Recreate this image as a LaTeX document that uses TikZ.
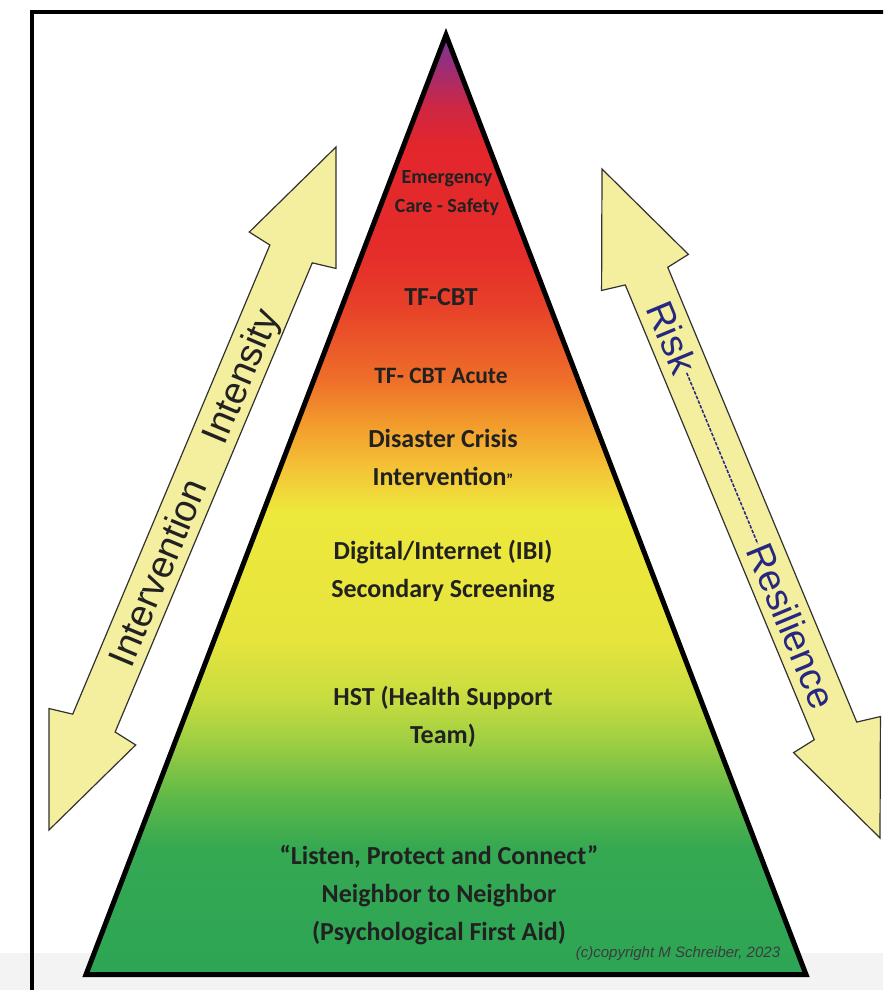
\documentclass[tikz,border=0pt]{standalone}
\usepackage{fontspec}
\setmainfont{Carlito}
\newfontfamily\arialfont{Liberation Sans}
\usetikzlibrary{calc}

\definecolor{arrowfill}{RGB}{244,239,158}
\definecolor{arrowedge}{RGB}{50,50,50}
\definecolor{riskblue}{RGB}{38,40,128}
\definecolor{labelgrey}{RGB}{33,33,33}
\definecolor{copygrey}{RGB}{60,60,60}
\definecolor{bandgrey}{RGB}{243,243,243}

\pgfdeclareverticalshading{pyramidshade}{100bp}{%
  rgb(0bp)=(0.176,0.647,0.333);
  rgb(25bp)=(0.176,0.647,0.333);
  rgb(31.7bp)=(0.208,0.659,0.322);
  rgb(34.34bp)=(0.361,0.722,0.282);
  rgb(37.5bp)=(0.627,0.812,0.259);
  rgb(39.61bp)=(0.776,0.863,0.251);
  rgb(42.78bp)=(0.902,0.894,0.239);
  rgb(49.63bp)=(0.933,0.910,0.235);
  rgb(52.01bp)=(0.957,0.761,0.212);
  rgb(54.38bp)=(0.949,0.604,0.173);
  rgb(56.7bp)=(0.933,0.431,0.161);
  rgb(60.71bp)=(0.906,0.247,0.161);
  rgb(63.34bp)=(0.898,0.176,0.165);
  rgb(69.15bp)=(0.890,0.149,0.173);
  rgb(71.26bp)=(0.800,0.153,0.267);
  rgb(73.37bp)=(0.604,0.180,0.471);
  rgb(75bp)=(0.478,0.212,0.588);
  rgb(100bp)=(0.478,0.212,0.588)}

\newcommand{\fatarrow}[2]{%
  \filldraw[arrowbody] (#1)
    -- ($(#1)!112pt!(#2)!47pt!90:(#2)$)
    -- ($(#1)!116pt!(#2)!23pt!90:(#2)$)
    -- ($(#2)!116pt!(#1)!23pt!-90:(#1)$)
    -- ($(#2)!112pt!(#1)!47pt!-90:(#1)$)
    -- (#2)
    -- ($(#2)!112pt!(#1)!47pt!90:(#1)$)
    -- ($(#2)!116pt!(#1)!23pt!90:(#1)$)
    -- ($(#1)!116pt!(#2)!23pt!-90:(#2)$)
    -- ($(#1)!112pt!(#2)!47pt!-90:(#2)$)
    -- cycle;}

\begin{document}
\begin{tikzpicture}[x=1pt, y=-1pt,
    arrowbody/.style={fill=arrowfill, draw=arrowedge, line width=1.2pt},
    arrowtext/.style={font=\arialfont\fontsize{38}{38}\selectfont, text=labelgrey,
      inner sep=1pt, text height=27pt, text depth=0pt},
    risktext/.style={arrowtext, text=riskblue},
    lvl/.style={font=\bfseries\fontsize{26}{38}\selectfont, align=center, text=labelgrey, inner sep=0pt}]
    \useasboundingbox (0,0) rectangle (883,990);
    \clip (0,0) rectangle (883,990);
    \fill[white] (0,0) rectangle (883,990);
    \fill[bandgrey] (0,953) rectangle (883,990);
    \draw[line width=3.3pt] (32,1000) -- (32,12) -- (900,12);

    \coordinate (lolow) at (49,830);
    \coordinate (lohigh) at (336,147);
    \coordinate (rhigh) at (602,169);
    \coordinate (rlow) at (880,838);
    \fatarrow{lolow}{lohigh}
    \fatarrow{rhigh}{rlow}

    \path (lolow) -- (lohigh)
        node[arrowtext, pos=.377, sloped] (interv) {Intervention}
        node[arrowtext, pos=.665, sloped] (intens) {Intensity};
    \path (rhigh) -- (rlow)
        node[risktext, pos=.252, sloped] (risk) {Risk}
        node[risktext, pos=.683, sloped] (resil) {Resilience};
    \draw[riskblue, line width=1.5pt, dash pattern=on 3.5pt off 1.5pt] (risk.east) -- (resil.west);

    \coordinate (apex) at (446,35);
    \coordinate (baseL) at (86,974.5);
    \coordinate (baseR) at (806,974.5);
    \shadedraw[shading=pyramidshade, draw=black, line width=5pt] (apex) -- (baseL) -- (baseR) -- cycle;

    \node[lvl, font=\bfseries\fontsize{20}{29}\selectfont] (emerg) at (447,193) {Emergency\\Care - Safety};
    \node[lvl] (tfcbt) at (441,297) {TF-CBT};
    \node[lvl, font=\bfseries\fontsize{23.5}{34}\selectfont] (acute) at (441,376) {TF- CBT Acute};
    \node[lvl] (crisis) at (443,457) {Disaster Crisis\\Intervention{\fontsize{16}{16}\selectfont ”}};
    \node[lvl] (digital) at (443,571) {Digital/Internet (IBI)\\Secondary Screening};
    \node[lvl] (hst) at (443,717) {HST (Health Support\\Team)};
    \node[lvl] (pfa) at (439,895) {“Listen, Protect and Connect”\\Neighbor to Neighbor\\(Psychological First Aid)};
    \node[font=\arialfont\itshape\fontsize{15}{18}\selectfont, text=copygrey, inner sep=0pt] (copy) at (678,954) {(c)copyright M Schreiber, 2023};
\end{tikzpicture}
\end{document}
